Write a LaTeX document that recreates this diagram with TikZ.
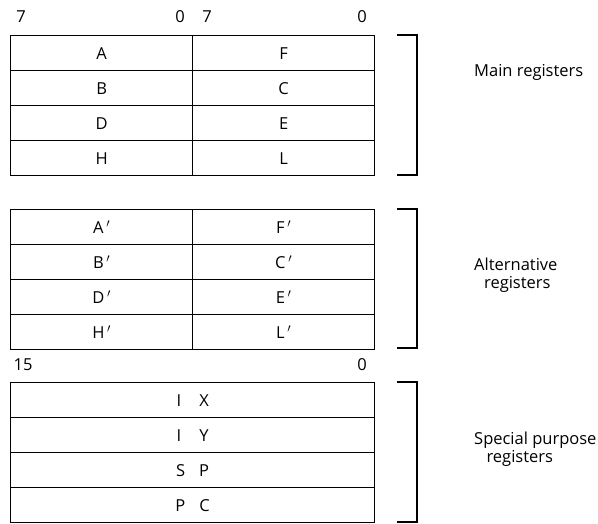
\documentclass[tikz,border=0pt]{standalone}
\usepackage{fontspec}
\setmainfont{Open Sans}
\begin{document}
\begin{tikzpicture}[x=1pt,y=-1pt,
  reg/.style={draw,line width=1.3pt,minimum height=35pt,inner sep=0pt,anchor=north west,font=\fontsize{16.5}{18}\selectfont},
  half/.style={reg,minimum width=182pt},
  full/.style={reg,minimum width=364pt},
  bitno/.style={font=\fontsize{16.5}{18}\selectfont,inner sep=0pt},
  brace/.style={line width=1.3pt},
  group/.style={font=\fontsize{16.5}{17.5}\selectfont,anchor=west,align=left,inner sep=0pt}]
\useasboundingbox (0,0) rectangle (598,523);
% bit numbers above the 8-bit pairs
\node[bitno] (b7a) at (21,17) {7};
\node[bitno] (b0a) at (180,17) {0};
\node[bitno] (b7b) at (207,17) {7};
\node[bitno] (b0b) at (362,17) {0};
% main register pairs
\node[half] (A) at (10,35) {A};   \node[half] (F) at (192,35) {F};
\node[half] (B) at (10,70) {B};   \node[half] (C) at (192,70) {C};
\node[half] (D) at (10,105) {D};  \node[half] (E) at (192,105) {E};
\node[half] (H) at (10,140) {H};  \node[half] (L) at (192,140) {L};
% alternative register pairs
\node[half] (A2) at (10,209) {A\,$'$};  \node[half] (F2) at (192,209) {F\,$'$};
\node[half] (B2) at (10,244) {B\,$'$};  \node[half] (C2) at (192,244) {C\,$'$};
\node[half] (D2) at (10,279) {D\,$'$};  \node[half] (E2) at (192,279) {E\,$'$};
\node[half] (H2) at (10,314) {H\,$'$};  \node[half] (L2) at (192,314) {L\,$'$};
% bit numbers above the 16-bit registers
\node[bitno] (b15) at (23,365) {15};
\node[bitno] (b0c) at (362,365) {0};
% 16-bit special purpose registers
\node[full] (IX) at (10,382) {I\hspace{1.1em}X};
\node[full] (IY) at (10,417) {I\hspace{1.1em}Y};
\node[full] (SP) at (10,452) {S\hspace{0.85em}P};
\node[full] (PC) at (10,487) {P\hspace{0.85em}C};
% group brackets
\coordinate (m1) at (397,35);  \coordinate (m2) at (397,175);
\coordinate (a1) at (397,209); \coordinate (a2) at (397,348);
\coordinate (s1) at (397,382); \coordinate (s2) at (397,522);
\draw[brace] (m1) -- ++(20,0) |- (m2);
\draw[brace] (a1) -- ++(20,0) |- (a2);
\draw[brace] (s1) -- ++(20,0) |- (s2);
% group labels
\node[group] (main) at (474,72) {Main registers};
\node[group] (alt) at (474,275) {Alternative\\\hspace{0.6em}registers};
\node[group] (spec) at (474,449) {Special purpose\\\hspace{0.75em}registers};
\end{tikzpicture}
\end{document}
